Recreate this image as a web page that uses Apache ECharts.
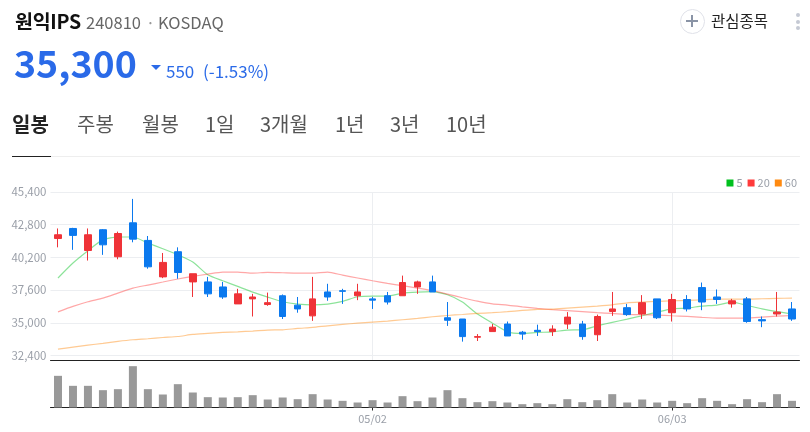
<!DOCTYPE html>
<html>
<head>
<meta charset="utf-8">
<style>
  html, body { margin: 0; padding: 0; background: #fff; }
  body { width: 810px; height: 432px; position: relative; overflow: hidden; font-family: "Noto Sans CJK KR", sans-serif; }
  #chart { position: absolute; left: 0; top: 0; width: 810px; height: 432px; }
  .t { position: absolute; white-space: nowrap; line-height: 1; }
  .tab { top: 114px; font-size: 20px; color: #555; }
  .rule { position: absolute; height: 1px; }
</style>
</head>
<body>
<div id="chart"></div>

<div class="t" style="left:15px;top:11px;font-size:19.5px;font-weight:700;color:#111;letter-spacing:-.3px">원익IPS</div>
<div class="t" style="left:86px;top:14px;font-size:16.5px;color:#666">240810</div>
<div class="t" style="left:146px;top:14px;font-size:16px;color:#999">·</div>
<div class="t" style="left:158px;top:14px;font-size:16.5px;color:#666">KOSDAQ</div>
<div class="t" style="left:14px;top:43px;font-size:37.5px;font-weight:700;color:#2a6ae8">35,300</div>
<div style="position:absolute;left:151px;top:65px;width:0;height:0;border-left:5px solid transparent;border-right:5px solid transparent;border-top:5px solid #2a6ae8"></div>
<div class="t" style="left:166px;top:62px;font-size:17px;color:#2a6ae8">550</div>
<div class="t" style="left:203px;top:62px;font-size:17px;color:#2a6ae8">(-1.53%)</div>

<div style="position:absolute;left:680px;top:9px;width:23px;height:23px;border:1px solid #dfe1e8;border-radius:50%"></div>
<div style="position:absolute;left:686px;top:20px;width:12px;height:2px;background:#8a94a6"></div>
<div style="position:absolute;left:691px;top:15px;width:2px;height:12px;background:#8a94a6"></div>
<div class="t" style="left:711px;top:13px;font-size:15.5px;color:#222">관심종목</div>
<div style="position:absolute;left:796px;top:13px;width:4px;height:4px;border-radius:50%;background:#c5c9d4"></div>
<div style="position:absolute;left:796px;top:20px;width:4px;height:4px;border-radius:50%;background:#c5c9d4"></div>
<div style="position:absolute;left:796px;top:26px;width:4px;height:4px;border-radius:50%;background:#c5c9d4"></div>

<div class="t tab" style="left:12px;font-weight:700;color:#222">일봉</div>
<div class="t tab" style="left:77px">주봉</div>
<div class="t tab" style="left:142px">월봉</div>
<div class="t tab" style="left:205px">1일</div>
<div class="t tab" style="left:260px">3개월</div>
<div class="t tab" style="left:335px">1년</div>
<div class="t tab" style="left:390px">3년</div>
<div class="t tab" style="left:446px">10년</div>
<div class="rule" style="left:12px;top:156px;width:788px;background:#eeeeee"></div>
<div class="rule" style="left:12px;top:156px;width:39px;background:#222"></div>

<script src="https://cdn.jsdelivr.net/npm/echarts@6/dist/echarts.min.js"></script>
<script>
  var dates = ['04/01','04/02','04/03','04/04','04/05','04/08','04/09','04/11','04/12','04/15',
    '04/16','04/17','04/18','04/19','04/22','04/23','04/24','04/25','04/26','04/29',
    '04/30','05/02','05/03','05/07','05/08','05/09','05/10','05/13','05/14','05/16',
    '05/17','05/20','05/21','05/22','05/23','05/24','05/27','05/28','05/29','05/30',
    '05/31','06/03','06/04','06/05','06/07','06/10','06/11','06/12','06/13','06/14']
  var labelDates = ['05/02', '06/03']
  var priceTicks = [32400, 35000, 37600, 40200, 42800, 45400]

  // open, close, low, high
  var candles = [
    [41700,42000,41000,42500],[42500,41950,40800,42550],[40750,42000,39950,42500],[42400,41200,40400,42450],[40250,42100,40050,42250],
    [42950,41650,41400,44850],[41550,39450,39300,41900],[38650,39800,38550,40550],[40650,39000,38500,41000],[38250,38900,37050,38900],
    [38250,37300,37050,38650],[37850,37050,36900,38250],[36500,37300,36500,37700],[36900,37050,35500,37300],[36450,36600,36350,37400],
    [37150,35500,35300,37250],[36400,36100,35800,37050],[35550,36900,35150,38650],[37450,37050,36750,38100],[37550,37500,36500,37700],
    [37150,37450,36800,38100],[36900,36800,36100,37050],[37150,36650,36450,37450],[37150,38200,37150,38750],[37850,38250,37300,38350],
    [38250,37450,37450,38750],[35400,35200,34750,36650],[35300,33900,33500,35300],[33850,33900,33550,34100],[34300,34650,34300,34900],
    [34900,33950,33950,35100],[34250,34100,33650,34350],[34400,34300,33950,34850],[34300,34500,33950,34800],[34900,35450,34500,35850],
    [34900,33900,33650,35150],[34050,35500,33550,35650],[35900,36100,35550,37450],[36200,35650,35550,36500],[35700,36600,35300,37200],
    [36900,35400,35300,36900],[35800,36850,35100,37300],[36850,36100,35900,37200],[37800,36650,36000,38200],[37050,36850,36500,37650],
    [36500,36750,36200,36900],[36900,35100,35000,37050],[35250,35150,34650,35500],[35700,35850,35500,37450],[36100,35300,35150,36650]
  ]

  var ma5 = [38560,39750,40730,41610,41820,41820,41340,40890,40410,39830,
    38820,38340,37890,37440,37040,36670,36490,36430,36490,36700,
    37070,37120,37120,37360,37440,37470,37230,36650,35690,34970,
    34280,34150,34230,34280,34420,34440,34760,35030,35290,35560,
    35850,36110,36170,36330,36410,36650,36380,36110,35880,35690]
  var ma20 = [35870,36300,36670,36960,37360,37760,38000,38240,38480,38690,
    38870,39030,39030,38950,39010,38980,38950,38950,39030,38790,
    38560,38340,38130,37950,37760,37550,37280,36990,36720,36510,
    36410,36270,36140,36040,35960,35880,35800,35740,35660,35640,
    35610,35560,35510,35430,35370,35370,35370,35450,35530,35580]
  var ma60 = [32900,33060,33220,33360,33520,33650,33730,33830,33910,34070,
    34150,34230,34280,34340,34420,34440,34550,34630,34760,34870,
    34970,35050,35130,35240,35350,35480,35580,35660,35740,35800,
    35880,35980,36060,36090,36170,36250,36330,36430,36590,36650,
    36700,36750,36780,36830,36880,36880,36880,36910,36940,36960]

  var volumes = [190000,130000,130000,104000,110000,248000,110000,78000,140000,90000,
    62000,60000,62000,74000,48000,60000,50000,80000,48000,40000,
    30000,44000,30000,68000,38000,60000,104000,56000,32000,38000,
    30000,20000,26000,20000,50000,32000,44000,80000,30000,48000,
    30000,40000,26000,56000,40000,20000,50000,32000,80000,40000]

  var RED = '#ef3338'
  var BLUE = '#0b79ee'
  var GRID = '#eceef1'
  var LABEL = '#9a9fa8'
  var FONT = '"Noto Sans CJK KR", sans-serif'

  function isLabelDate(i, v) {
    return labelDates.indexOf(v) >= 0
  }

  function maLine(name, data, color) {
    return {
      name: name, type: 'line', data: data, symbol: 'none', smooth: 0.2, z: 3,
      itemStyle: { color: color },
      lineStyle: { color: color, width: 1.2, opacity: 0.45 },
    }
  }

  var chart = echarts.init(document.getElementById('chart'))
  chart.setOption({
    animation: false,
    legend: {
      data: [
        { name: '5', itemStyle: { color: '#00c01e' } },
        { name: '20', itemStyle: { color: '#ff3b3b' } },
        { name: '60', itemStyle: { color: '#ff8a10' } },
      ],
      right: 13, top: 177.5, icon: 'rect', itemWidth: 7, itemHeight: 7, itemGap: 5,
      selectedMode: false, padding: 0,
      textStyle: { color: LABEL, fontSize: 11, fontFamily: FONT, padding: [0, 0, 0, -2] },
    },
    grid: [
      { left: 50.5, right: 10.5, top: 192, height: 168.5 },
      { left: 50.5, right: 10.5, top: 360.5, height: 47 },
    ],
    xAxis: [
      {
        type: 'category', gridIndex: 0, data: dates,
        axisLine: { lineStyle: { color: '#222', width: 1 } },
        axisTick: { show: false }, axisLabel: { show: false },
        splitLine: { show: true, interval: isLabelDate, alignWithLabel: true, lineStyle: { color: GRID, width: 1 } },
      },
      {
        type: 'category', gridIndex: 1, data: dates,
        axisLine: { lineStyle: { color: '#222', width: 1 } },
        axisTick: { show: true, interval: isLabelDate, alignWithLabel: true, length: 3, lineStyle: { color: '#222' } },
        axisLabel: { interval: isLabelDate, color: LABEL, fontSize: 11, fontFamily: FONT, margin: 6 },
        splitLine: { show: false },
      },
    ],
    yAxis: [
      {
        type: 'value', gridIndex: 0, min: 32000, max: 45400, scale: true,
        axisLine: { show: false },
        axisTick: { show: false, customValues: priceTicks },
        axisLabel: {
          customValues: priceTicks, color: LABEL, fontSize: 11.5, fontFamily: FONT, margin: 4,
          formatter: function(v) { return echarts.format.addCommas(v) },
        },
        splitLine: { show: true, customValues: priceTicks, lineStyle: { color: GRID, width: 1 } },
      },
      {
        type: 'value', gridIndex: 1, min: 0, max: 282000,
        axisLine: { show: false }, axisTick: { show: false }, axisLabel: { show: false }, splitLine: { show: false },
      },
    ],
    series: [
      {
        name: 'price', type: 'candlestick', data: candles, barWidth: 7, z: 4,
        itemStyle: { color: RED, color0: BLUE, borderColor: RED, borderColor0: BLUE, borderWidth: 1 },
      },
      maLine('5', ma5, '#00c01e'),
      maLine('20', ma20, '#ff3b3b'),
      maLine('60', ma60, '#ff8a10'),
      {
        name: 'volume', type: 'bar', xAxisIndex: 1, yAxisIndex: 1, data: volumes, barWidth: 8,
        itemStyle: { color: '#999999' },
      },
    ],
  })
</script>
</body>
</html>
